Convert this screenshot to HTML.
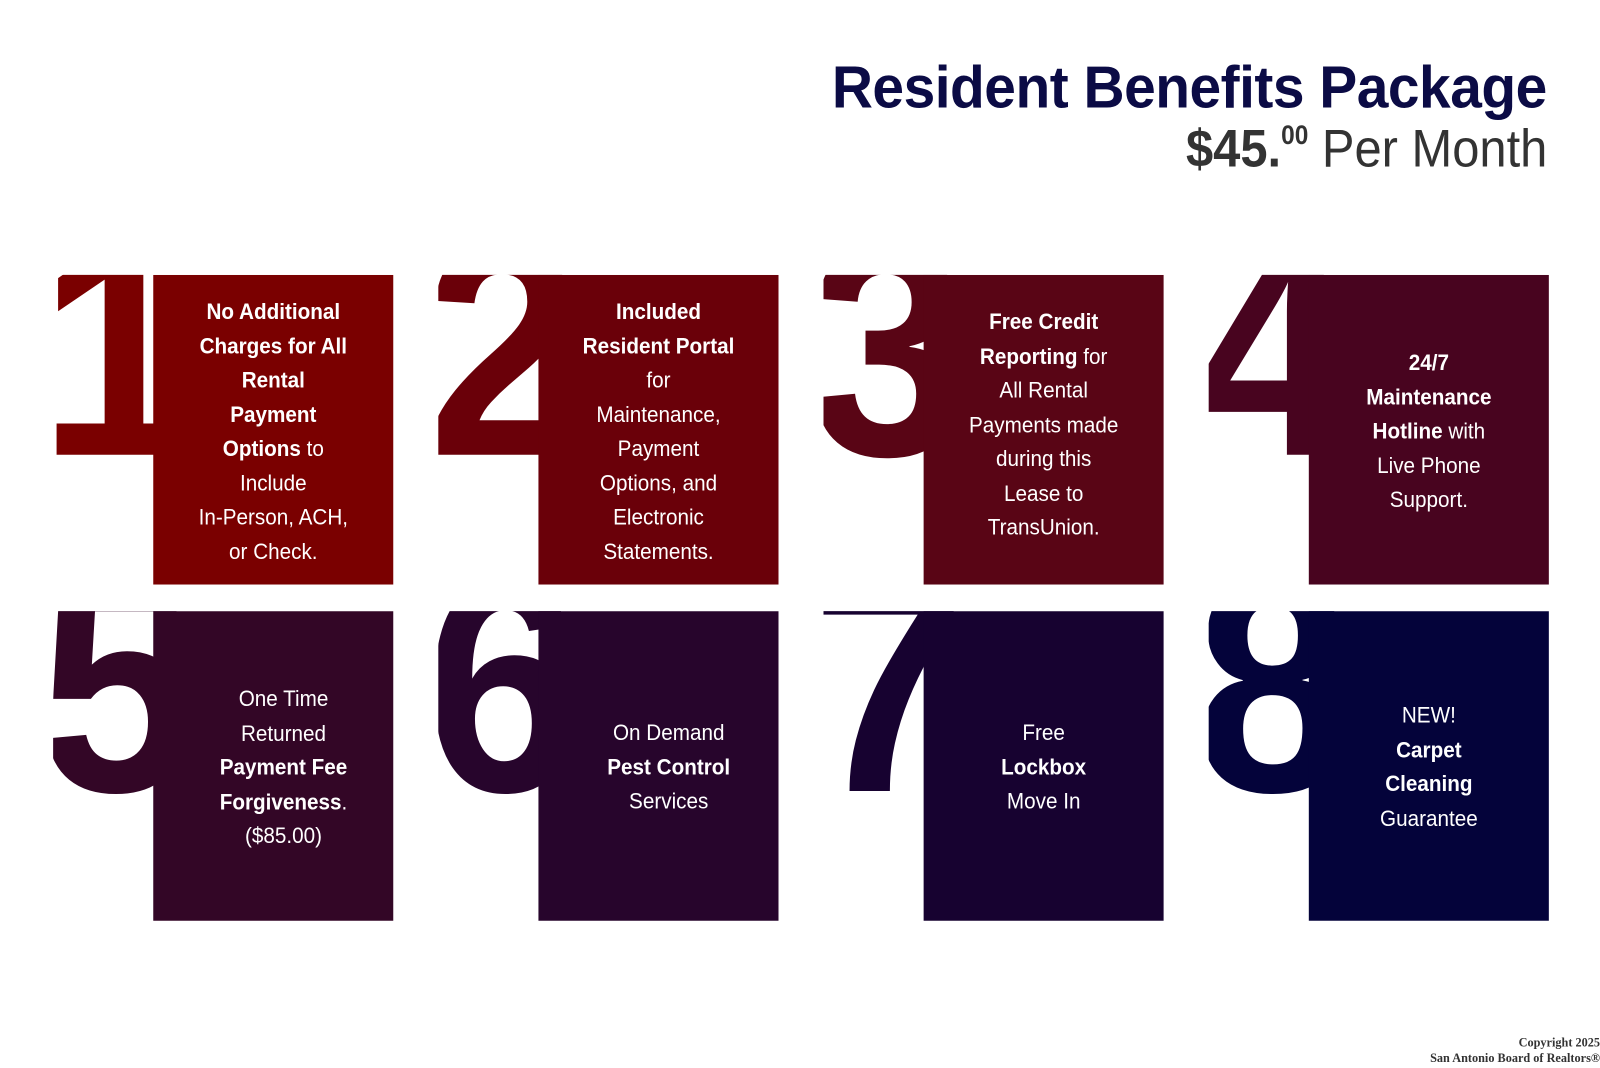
<!DOCTYPE html>
<html><head><meta charset="utf-8"><style>
html,body{margin:0;padding:0;background:#fff;width:1600px;height:1068px;overflow:hidden}
#w{position:absolute;left:0;top:0;width:1566px;height:1045px;transform-origin:0 0;transform:scale(1.02171,1.02201);font-family:"Liberation Sans",sans-serif}
.t{position:absolute;right:52px;top:52px;white-space:nowrap;font-weight:bold;font-size:58px;color:#0b0b45;transform:scaleX(0.96);transform-origin:right top;letter-spacing:-0.5px}
.s{position:absolute;right:52px;top:116px;white-space:nowrap;font-size:52px;color:#333;transform:scaleX(0.92);transform-origin:right top}
.s b sup{font-size:26px;vertical-align:22px}
.c{position:absolute;width:333px;height:303px;overflow:hidden}
.box{position:absolute;left:98px;top:0;width:235px;height:303px;z-index:1}
.d{position:absolute;left:-14px;top:-78px;font-weight:bold;font-size:300px;line-height:300px;transform:scaleX(0.92);transform-origin:left top}
.tx{position:absolute;left:98px;width:235px;text-align:center;color:#fff;font-size:22px;line-height:33.5px;transform:scaleX(0.92);z-index:2}
.cp{position:absolute;right:0;bottom:2px;text-align:right;font:bold 12px "Liberation Serif",serif;color:#333;line-height:15px}
</style></head><body><div id="w">
<div class="t">Resident Benefits Package</div>
<div class="s"><b>$45.<sup>00</sup></b> Per Month</div>

<div class="c" style="left:52px;top:269px;color:#7a0000"><div class="box" style="background:#7a0000"></div><div class="d">1</div>
<div class="tx" style="top:19px"><b>No Additional<br>Charges for All<br>Rental<br>Payment<br>Options</b> to<br>Include<br>In-Person, ACH,<br>or Check.</div></div>

<div class="c" style="left:429px;top:269px;color:#6a0009"><div class="box" style="background:#6a0009"></div><div class="d">2</div>
<div class="tx" style="top:19px"><b>Included<br>Resident Portal</b><br>for<br>Maintenance,<br>Payment<br>Options, and<br>Electronic<br>Statements.</div></div>

<div class="c" style="left:806px;top:269px;color:#590515"><div class="box" style="background:#590515"></div><div class="d">3</div>
<div class="tx" style="top:29px"><b>Free Credit<br>Reporting</b> for<br>All Rental<br>Payments made<br>during this<br>Lease to<br>TransUnion.</div></div>

<div class="c" style="left:1183px;top:269px;color:#48041f"><div class="box" style="background:#48041f"></div><div class="d">4</div>
<div class="tx" style="top:69px"><b>24/7<br>Maintenance<br>Hotline</b> with<br>Live Phone<br>Support.</div></div>

<div class="c" style="left:52px;top:598px;color:#330626"><div class="box" style="background:#330626"></div><div class="d">5</div>
<div class="tx" style="top:69px;left:108px"><span>One Time<br>Returned<br><b>Payment Fee<br>Forgiveness</b>.<br>($85.00)</span></div></div>

<div class="c" style="left:429px;top:598px;color:#27052c"><div class="box" style="background:#27052c"></div><div class="d">6</div>
<div class="tx" style="top:102px;left:108px">On Demand<br><b>Pest Control</b><br>Services</div></div>

<div class="c" style="left:806px;top:598px;color:#170230"><div class="box" style="background:#170230"></div><div class="d">7</div>
<div class="tx" style="top:102px">Free<br><b>Lockbox</b><br>Move In</div></div>

<div class="c" style="left:1183px;top:598px;color:#04033a"><div class="box" style="background:#04033a"></div><div class="d">8</div>
<div class="tx" style="top:85px">NEW!<br><b>Carpet<br>Cleaning</b><br>Guarantee</div></div>

<div class="cp">Copyright 2025<br>San Antonio Board of Realtors®</div>
</div></body></html>
